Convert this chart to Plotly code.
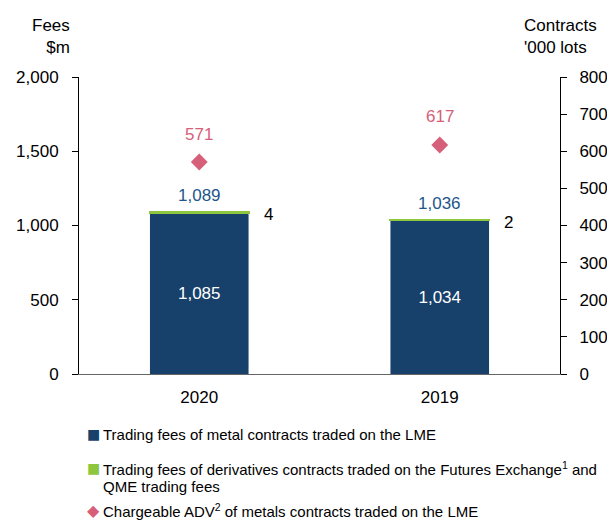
import plotly.graph_objects as go

years = ["2020", "2019"]
metal_fees = [1085, 1034]
deriv_fees = [4, 2]
total_fees = [1089, 1036]
adv = [571, 617]

legend_rows = [
    ("■", "#17416a", "Trading fees of metal contracts traded on the LME", 434),
    ("■", "#8dc63f", "Trading fees of derivatives contracts traded on the Futures Exchange<sup>1</sup> and", 468),
    ("", "", "QME trading fees", 486),
    ("◆", "#d6607a", "Chargeable ADV<sup>2</sup> of metals contracts traded on the LME", 510),
]

FONT = "Liberation Sans, Arial, sans-serif"
DARK = "#17416a"
GREEN = "#8dc63f"
PINK = "#d6607a"
LABEL_BLUE = "#22568a"

W, H = 607, 520
PL, PR, PT, PB = 79, 560, 77, 374   # plot area in page pixels
PW, PH = PR - PL, PB - PT
L, T, R, B = PL, PT, W - PR, H - PB

fig = go.Figure()
fig.add_trace(go.Bar(
    x=years, y=metal_fees, name="Trading fees of metal contracts traded on the LME",
    marker=dict(color=DARK),
    text=[f"{v:,}" for v in metal_fees], textposition="inside", insidetextanchor="middle",
    textfont=dict(color="white", size=17, family=FONT),
))
fig.add_trace(go.Bar(
    x=years, y=deriv_fees,
    name="Trading fees of derivatives contracts traded on the Futures Exchange and QME trading fees",
    marker=dict(color=GREEN, line=dict(color=GREEN, width=2)), textposition="none",
))
fig.add_trace(go.Scatter(
    x=years, y=adv, yaxis="y2", mode="markers",
    name="Chargeable ADV of metals contracts traded on the LME",
    marker=dict(symbol="diamond", color=PINK, size=13),
    cliponaxis=False,
))

for i, (tot, d, a) in enumerate(zip(total_fees, deriv_fees, adv)):
    fig.add_annotation(x=i, y=tot, text=f"{tot:,}", showarrow=False, yshift=17,
                       font=dict(size=17, color=LABEL_BLUE, family=FONT))
    fig.add_annotation(x=i, y=tot, text=str(d), showarrow=False, xshift=69, yshift=-2,
                       font=dict(size=17, color="black", family=FONT))
    fig.add_annotation(x=i, y=a, yref="y2", text=str(a), showarrow=False, yshift=28,
                       font=dict(size=17, color=PINK, family=FONT))

fig.add_annotation(xref="paper", yref="paper", x=(72 - PL) / PW, y=(PB - 59) / PH,
                   xanchor="right", yanchor="bottom",
                   text="Fees<br>$m", align="right", showarrow=False,
                   font=dict(size=17, color="black", family=FONT))
fig.add_annotation(xref="paper", yref="paper", x=(522 - PL) / PW, y=(PB - 59) / PH,
                   xanchor="left", yanchor="bottom",
                   text="Contracts<br>'000 lots", align="left", showarrow=False,
                   font=dict(size=17, color="black", family=FONT))

# legend drawn as text rows below the plot
for sym, col, txt, ypx in legend_rows:
    yp = (PB - ypx) / PH
    if sym:
        fig.add_annotation(xref="paper", yref="paper", x=(93 - PL) / PW, y=yp,
                           xanchor="center", yanchor="middle", text=sym, showarrow=False,
                           font=dict(size=14 if sym == "■" else 16, color=col, family="DejaVu Sans"))
    fig.add_annotation(xref="paper", yref="paper", x=(101 - PL) / PW, y=yp,
                       xanchor="left", yanchor="middle", text=txt, showarrow=False,
                       font=dict(size=15, color="black", family=FONT))

fig.update_layout(
    width=W, height=H,
    margin=dict(l=L, r=R, t=T, b=B),
    paper_bgcolor="white", plot_bgcolor="white",
    barmode="stack", bargap=0.59, showlegend=False,
    font=dict(family=FONT, size=17, color="black"),
    xaxis=dict(type="category", range=[-0.5, 1.5], showline=True, linecolor="#666666", linewidth=1,
               ticks="", showgrid=False, tickfont=dict(size=17), ticklabelstandoff=8,
               automargin=False),
    yaxis=dict(range=[0, 2000], dtick=500, tickformat=",", showline=True, linecolor="black",
               ticks="outside", ticklen=6, tickcolor="black", showgrid=False, zeroline=False,
               ticklabelstandoff=10, tickfont=dict(size=17), automargin=False),
    yaxis2=dict(range=[0, 800], dtick=100, overlaying="y", side="right", showline=True,
                linecolor="black", ticks="outside", ticklen=6, tickcolor="black",
                showgrid=False, zeroline=False, ticklabelstandoff=9, tickfont=dict(size=17),
                automargin=False),
)

fig.write_html("out.html", config={"displayModeBar": False},
               post_script="document.body.style.margin='0';document.body.style.overflow='hidden';")
